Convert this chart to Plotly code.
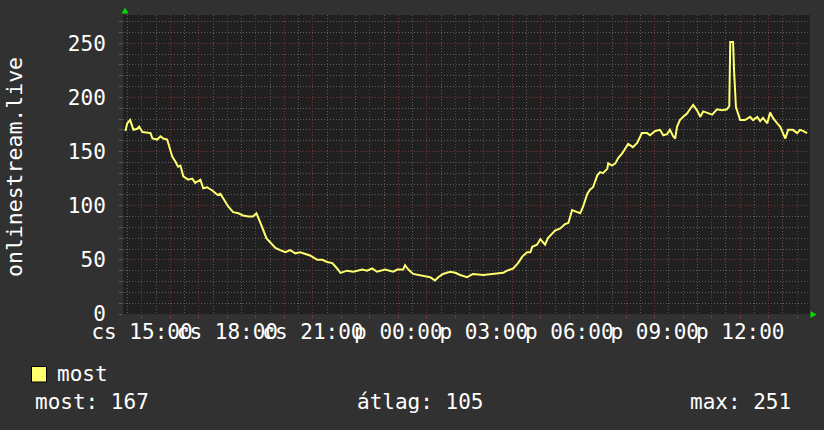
import plotly.graph_objects as go
import pandas as pd

# ---------------- data ----------------
day1_times = ["14:25", "14:29", "14:35", "14:42", "14:50", "14:54", "15:01", "15:11", "15:18", "15:22",
              "15:32", "15:39", "15:45", "15:53", "16:00", "16:04", "16:10", "16:16", "16:21", "16:27",
              "16:37", "16:46", "16:52", "17:03", "17:09", "17:17", "17:28", "17:39", "17:45", "17:51",
              "18:02", "18:12", "18:23", "18:33", "18:44", "18:54", "19:01", "19:03", "19:09", "19:15",
              "19:22", "19:30", "19:41", "19:51", "20:02", "20:12", "20:23", "20:33", "20:40", "20:54",
              "21:09", "21:20", "21:30", "21:41", "21:51", "21:58", "22:12", "22:25", "22:44", "22:54",
              "23:05", "23:15", "23:32", "23:49", "23:58"]
day1_values = [169, 176, 179, 170, 171, 173, 168, 167, 167, 162,
               161, 164, 162, 161, 151, 145, 141, 136, 137, 127,
               124, 125, 121, 124, 116, 117, 114, 110, 111, 107,
               99, 94, 93, 91, 90, 90, 93, 91, 85, 78,
               70, 66, 61, 59, 57, 59, 56, 57, 56, 54,
               50, 50, 48, 47, 42, 38, 40, 39, 41, 40,
               42, 39, 41, 39, 41]

day2_times = ["00:10", "00:14", "00:21", "00:31", "00:52", "01:07", "01:17", "01:24", "01:34", "01:49",
              "02:00", "02:10", "02:25", "02:37", "02:59", "03:20", "03:41", "03:49", "04:02", "04:12",
              "04:21", "04:31", "04:38", "04:42", "04:52", "04:59", "05:09", "05:15", "05:24", "05:30",
              "05:41", "05:51", "05:58", "06:06", "06:17", "06:23", "06:29", "06:38", "06:44", "06:50",
              "06:59", "07:05", "07:11", "07:20", "07:22", "07:30", "07:37", "07:43", "07:51", "07:58",
              "08:04", "08:14", "08:23", "08:33", "08:44", "08:50", "09:01", "09:11", "09:18", "09:26",
              "09:32", "09:39", "09:43", "09:47", "09:53", "10:00", "10:08", "10:14", "10:21", "10:29",
              "10:36", "10:42", "10:50", "11:01", "11:11", "11:22", "11:32", "11:37", "11:39", "11:45",
              "11:47", "11:51", "12:00", "12:10", "12:21", "12:27", "12:36", "12:42", "12:48", "12:57",
              "13:03", "13:09", "13:18", "13:24", "13:30", "13:35", "13:41", "13:51", "14:00", "14:06",
              "14:12", "14:21"]
day2_values = [41, 45, 41, 37, 35, 34, 31, 34, 37, 39,
               38, 36, 34, 37, 36, 37, 38, 40, 42, 47,
               53, 57, 57, 62, 64, 69, 64, 70, 74, 77,
               79, 83, 84, 96, 94, 93, 99, 111, 115, 117,
               128, 131, 130, 134, 139, 137, 139, 144, 148, 153,
               157, 154, 158, 167, 167, 165, 169, 170, 165, 166,
               170, 164, 162, 173, 179, 182, 185, 189, 193, 188,
               182, 187, 186, 184, 189, 188, 189, 192, 251, 251,
               225, 191, 179, 179, 182, 179, 182, 178, 181, 176,
               186, 181, 176, 173, 167, 162, 170, 170, 167, 170,
               169, 167]

day1_date = "2024-03-14"   # csütörtök
day2_date = "2024-03-15"   # péntek

label_hours = ["15:00", "18:00", "21:00", "00:00", "03:00", "06:00", "09:00", "12:00"]
label_days = [day1_date, day1_date, day1_date, day2_date, day2_date, day2_date, day2_date, day2_date]
tick_labels = ["cs 15:00", "cs 18:00", "cs 21:00", "p 00:00", "p 03:00", "p 06:00", "p 09:00", "p 12:00"]

y_ticks = [0, 50, 100, 150, 200, 250]
series_name = "most"
axis_title = "onlinestream.live"
stat_texts = ["most: 167", "átlag: 105", "max: 251"]

# ---------------- build ----------------
times = [f"{day1_date} {t}" for t in day1_times] + [f"{day2_date} {t}" for t in day2_times]
values = day1_values + day2_values

x_start = pd.Timestamp(f"{day1_date} 14:20")
x_end = pd.Timestamp(f"{day2_date} 14:27")
hourly = pd.date_range(f"{day1_date} 15:00", f"{day2_date} 14:00", freq="1h")
label_map = {pd.Timestamp(f"{d} {h}"): t for d, h, t in zip(label_days, label_hours, tick_labels)}
tickvals = list(hourly)
ticktext = [label_map.get(t, "") for t in hourly]

PAPER = "#313131"
PLOT = "#202020"
RED = "#7a3434"
GRAY = "#5e5e5e"
LINE = "#ffff70"
FONT = "DejaVu Sans Mono"
FS = 21

W, H = 824, 430
L, R, T, B = 123, 14, 15, 116
pw, ph = W - L - R, H - T - B

def px(x):
    return (x - L) / pw

def py(y):
    return (H - B - y) / ph

fig = go.Figure()
fig.add_trace(go.Scatter(x=times, y=values, mode="lines",
                         line=dict(color=LINE, width=2), name=series_name,
                         showlegend=False, hoverinfo="skip"))

fig.update_layout(
    width=W, height=H,
    margin=dict(l=L, r=R, t=T, b=B, autoexpand=False),
    paper_bgcolor=PAPER, plot_bgcolor=PLOT,
    font=dict(family=FONT, color="#ffffff", size=FS),
    showlegend=False,
)
fig.update_xaxes(
    type="date", range=[x_start, x_end],
    tickmode="array", tickvals=tickvals, ticktext=ticktext, tickangle=0,
    showgrid=True, gridcolor=RED, griddash="1px,2px", gridwidth=1,
    ticks="outside", ticklen=3, tickcolor=RED, ticklabelstandoff=-4,
    tickfont=dict(family=FONT, size=FS, color="#ffffff"),
    zeroline=False, showline=False,
    minor=dict(dtick=30 * 60 * 1000, tick0=f"{day1_date} 14:30", showgrid=True,
               gridcolor=GRAY, griddash="1px,2px", gridwidth=1, ticks=""),
)
fig.update_yaxes(
    range=[0, 276], tickmode="array", tickvals=y_ticks,
    showgrid=True, gridcolor=RED, griddash="1px,2px", gridwidth=1,
    ticks="outside", ticklen=3, tickcolor=GRAY, ticklabelstandoff=9,
    tickfont=dict(family=FONT, size=FS, color="#ffffff"),
    zeroline=False, showline=False,
    minor=dict(dtick=10, showgrid=True, gridcolor=GRAY, griddash="1px,2px",
               gridwidth=1, ticks="outside", ticklen=3, tickcolor=GRAY),
)

# axis title
fig.add_annotation(text=axis_title, xref="paper", yref="paper",
                   x=px(14), y=py(167), textangle=-90, showarrow=False,
                   font=dict(family=FONT, size=21.5, color="#ffffff"),
                   xanchor="center", yanchor="middle")

# green arrows
fig.add_shape(type="path", xref="paper", yref="paper",
              path=f"M {px(121.5)} {py(13.5)} L {px(128.5)} {py(13.5)} L {px(125)} {py(7.5)} Z",
              fillcolor="#00dd00", line=dict(width=0))
fig.add_shape(type="path", xref="paper", yref="paper",
              path=f"M {px(810.5)} {py(311)} L {px(810.5)} {py(318)} L {px(816.5)} {py(314.5)} Z",
              fillcolor="#00dd00", line=dict(width=0))

# legend square + text
fig.add_shape(type="rect", xref="paper", yref="paper",
              x0=px(31.5), x1=px(46.5), y0=py(382), y1=py(366.5),
              fillcolor=LINE, line=dict(color="#000000", width=1))
fig.add_annotation(text=series_name, xref="paper", yref="paper",
                   x=px(55), y=py(374), showarrow=False, xanchor="left", yanchor="middle",
                   font=dict(family=FONT, size=FS, color="#ffffff"))

# stats
stat_x = [33, 355, 688]
for sx, st in zip(stat_x, stat_texts):
    fig.add_annotation(text=st, xref="paper", yref="paper",
                       x=px(sx), y=py(402), showarrow=False, xanchor="left", yanchor="middle",
                       font=dict(family=FONT, size=FS, color="#ffffff"))

fig.write_html("out.html", config={"displayModeBar": False},
               post_script="document.body.style.margin='0';")
